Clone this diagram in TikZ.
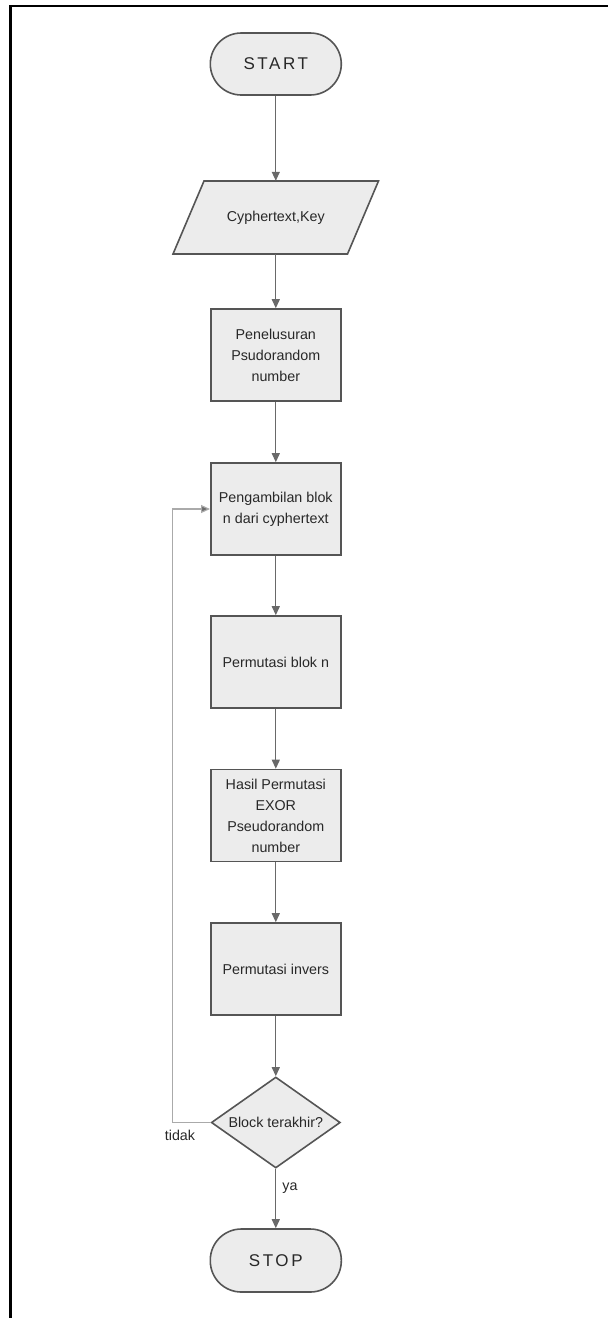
\documentclass[tikz,border=0pt]{standalone}
\usepackage{fontspec}
\setmainfont{Liberation Sans}
\usetikzlibrary{arrows.meta,shapes.geometric}
\definecolor{shapeline}{RGB}{85,85,85}
\definecolor{shapefill}{RGB}{236,236,236}
\definecolor{conn}{RGB}{105,105,105}
\definecolor{loopline}{RGB}{170,170,170}
\definecolor{txt}{RGB}{40,40,40}
\tikzset{
  base/.style={draw=shapeline, fill=shapefill, line width=1.6pt, text=txt, align=center,
    font=\fontsize{14.3}{21}\selectfont, inner sep=0pt},
  termbox/.style={base, rectangle, rounded corners=31pt, minimum width=131pt, minimum height=62pt,
    font=\fontsize{17}{20}\selectfont\addfontfeature{LetterSpace=15}},
  procbox/.style={base, rectangle, minimum width=130pt, minimum height=92pt},
  decbox/.style={base, diamond, minimum width=129pt, minimum height=91pt, aspect=1.42},
  iotext/.style={text=txt, font=\fontsize{14.3}{21}\selectfont, minimum width=143.5pt, minimum height=73pt, inner sep=0pt},
  flow/.style={draw=conn, line width=1.2pt, -{Triangle[width=8pt,length=9pt]}},
  backflow/.style={draw=loopline, line width=1.2pt, -{Triangle[width=8pt,length=9pt,fill=conn]}},
  lbl/.style={text=txt, font=\fontsize{14.3}{17}\selectfont, inner sep=0pt}
}
\begin{document}
\begin{tikzpicture}[x=1pt,y=-1pt]
\useasboundingbox (0,0) rectangle (608,1318);
% page frame
\draw[line width=2.6pt, black] (10.7,1318) -- (10.7,6) -- (608,6);

\node[termbox] (start) at (275.8,64) {START};

% input/output parallelogram
\filldraw[draw=shapeline, fill=shapefill, line width=1.6pt]
  (173,254) -- (347.5,254) -- (378.5,181) -- (204,181) -- cycle;
\node[iotext] (in) at (275.8,217.5) {Cyphertext,Key};

\node[procbox] (b1) at (275.8,355) {Penelusuran\\Psudorandom\\number};
\node[procbox] (b2) at (275.8,509) {Pengambilan blok\\n dari cyphertext};
\node[procbox] (b3) at (275.8,662) {Permutasi blok n};
\node[procbox] (b4) at (275.8,815.5) {Hasil Permutasi\\EXOR\\Pseudorandom\\number};
\node[procbox] (b5) at (275.8,969) {Permutasi invers};
\node[decbox] (dec) at (275.8,1122.5) {Block terakhir?};
\node[termbox, minimum height=63pt] (stop) at (275.8,1260.5) {STOP};

\coordinate (lp) at (172.3,509);

\draw[flow] (start) -- (in);
\draw[flow] (in) -- (b1);
\draw[flow] (b1) -- (b2);
\draw[flow] (b2) -- (b3);
\draw[flow] (b3) -- (b4);
\draw[flow] (b4) -- (b5);
\draw[flow] (b5) -- (dec);
\draw[flow] (dec) -- (stop);
\draw[backflow] (dec.west) -| (lp) -- (b2.west);

\node[lbl] (tidak) at (180,1135) {tidak};
\node[lbl] (ya) at (290,1188) {ya};
\end{tikzpicture}
\end{document}
